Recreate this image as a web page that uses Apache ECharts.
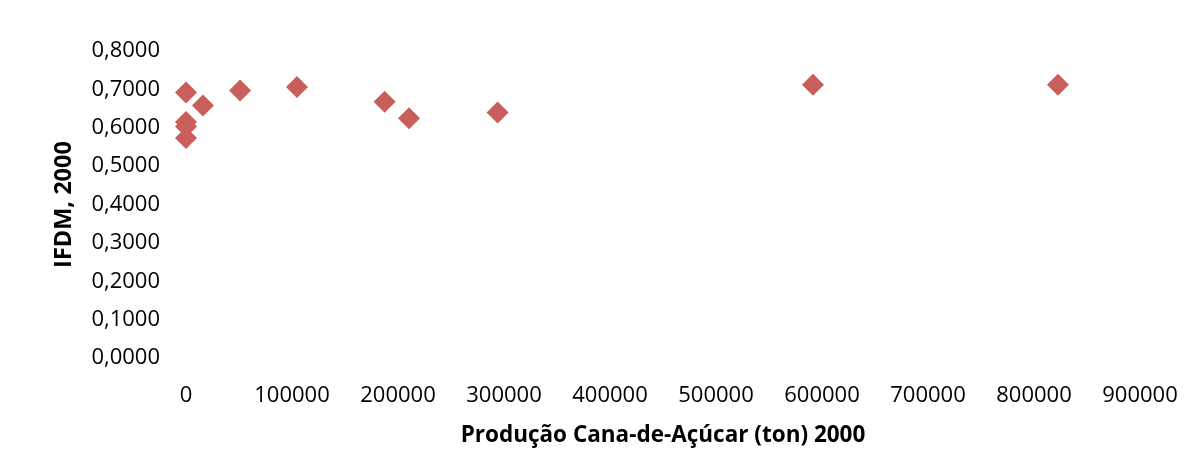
<!DOCTYPE html>
<html>
<head>
<meta charset="utf-8">
<script src="https://cdn.jsdelivr.net/npm/echarts@6/dist/echarts.min.js"></script>
<style>
  html, body { margin: 0; padding: 0; background: #fff; overflow: hidden; }
  #chart { width: 1188px; height: 452px; }
</style>
</head>
<body>
<div id="chart"></div>
<script>
// Produção de cana-de-açúcar (ton) x IFDM, ano 2000
const producao = [0, 16000, 51000, 104700, 187400, 210400, 294000, 591500, 822600, 0, 0, 0];
const ifdm     = [0.692, 0.658, 0.697, 0.706, 0.668, 0.625, 0.640, 0.712, 0.712, 0.615, 0.603, 0.573];
const xTicks = { min: 0, max: 900000, interval: 100000 };
const yTicks = { min: 0, max: 0.8, interval: 0.1 };
const xTitle = 'Produção Cana-de-Açúcar (ton) 2000';
const yTitle = 'IFDM, 2000';

const points = producao.map((v, i) => [v, ifdm[i]]);
const font = '"Open Sans", "Liberation Sans", sans-serif';

const chart = echarts.init(document.getElementById('chart'), null, { renderer: 'canvas', width: 1188, height: 452 });
chart.setOption({
  animation: false,
  backgroundColor: '#ffffff',
  grid: { left: 186, right: 48, top: 51, bottom: 71, containLabel: false },
  xAxis: {
    type: 'value',
    min: xTicks.min, max: xTicks.max, interval: xTicks.interval,
    name: xTitle,
    nameLocation: 'middle',
    nameGap: 66,
    nameTextStyle: { fontFamily: font, fontSize: 22.5, fontWeight: 'bold', color: '#000' },
    axisLine: { show: false },
    axisTick: { show: false },
    splitLine: { show: false },
    axisLabel: {
      fontFamily: font, fontSize: 22, color: '#000', margin: 27,
      formatter: v => String(v)
    }
  },
  yAxis: {
    type: 'value',
    min: yTicks.min, max: yTicks.max, interval: yTicks.interval,
    name: yTitle,
    nameLocation: 'middle',
    nameGap: 110,
    nameRotate: 90,
    nameTextStyle: { fontFamily: font, fontSize: 23.5, fontWeight: 'bold', color: '#000' },
    axisLine: { show: false },
    axisTick: { show: false },
    splitLine: { show: false },
    axisLabel: {
      fontFamily: font, fontSize: 22, color: '#000', margin: 26,
      formatter: v => v.toFixed(4).replace('.', ',')
    }
  },
  series: [{
    type: 'scatter',
    data: points,
    symbol: 'diamond',
    symbolSize: 22,
    itemStyle: { color: '#C95F5A', opacity: 1 }
  }]
});
</script>
</body>
</html>
